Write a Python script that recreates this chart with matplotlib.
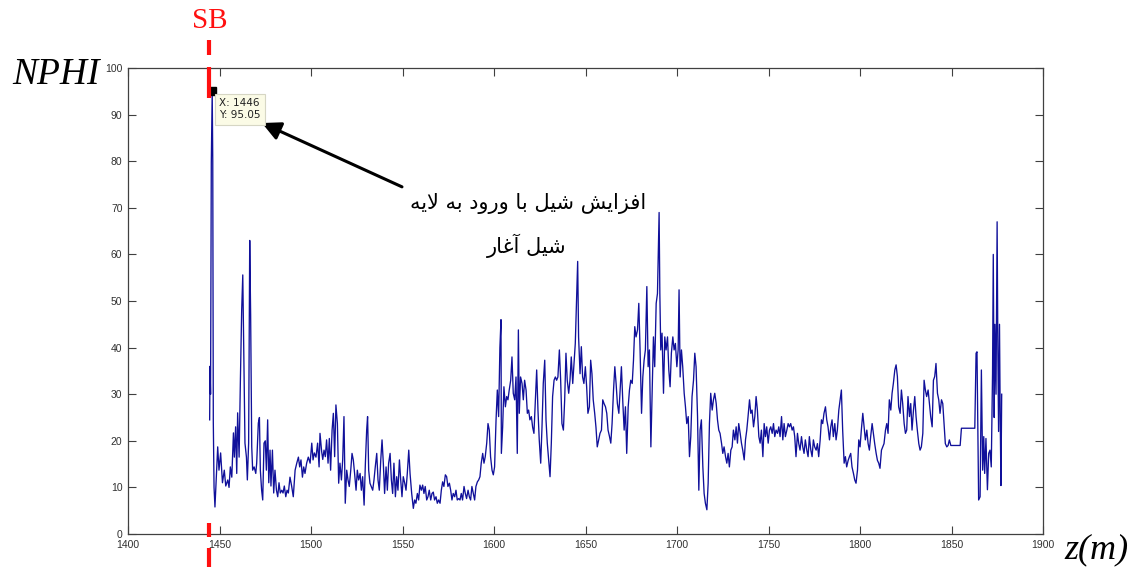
"""
NPHI log versus depth with the shale-boundary (SB) marker
"""
import matplotlib
matplotlib.use('Agg')
import matplotlib.pyplot as plt
import matplotlib.transforms as mtransforms

DEPTH = [
    1444.6, 1444.8, 1445.1, 1445.5, 1446.0, 1446.3, 1446.6, 1447.0, 1447.5, 1449.0,
    1449.7, 1450.6, 1451.6, 1452.6, 1453.4, 1454.5, 1455.2, 1455.9, 1456.7, 1457.6,
    1458.1, 1458.8, 1459.4, 1459.9, 1460.7, 1461.4, 1462.1, 1462.7, 1463.4, 1463.9,
    1464.7, 1465.2, 1465.9, 1466.5, 1467.0, 1467.6, 1468.1, 1468.9, 1469.8, 1470.3,
    1471.2, 1471.8, 1472.3, 1473.0, 1473.6, 1474.3, 1475.0, 1475.6, 1476.3, 1476.9,
    1477.6, 1478.1, 1478.9, 1479.6, 1480.3, 1481.1, 1481.8, 1482.5, 1483.2, 1484.0,
    1484.7, 1485.4, 1486.2, 1486.9, 1487.6, 1488.5, 1489.4, 1490.3, 1491.3, 1492.2,
    1493.1, 1493.8, 1494.5, 1495.3, 1496.0, 1496.7, 1497.6, 1498.5, 1499.5, 1500.4,
    1501.1, 1501.8, 1502.7, 1503.6, 1504.4,
    1504.9, 1505.8, 1506.4, 1507.1, 1507.8, 1508.5, 1509.3, 1510.0, 1510.7, 1511.5,
    1512.2, 1512.9, 1513.6, 1514.4, 1515.1, 1515.8, 1516.6, 1517.3, 1518.0, 1518.7,
    1519.5, 1520.2, 1520.9, 1521.7, 1522.4, 1523.1, 1523.8, 1524.6, 1525.3, 1526.0,
    1526.8, 1527.5, 1528.2, 1529.0, 1529.7, 1530.4, 1530.9, 1531.5, 1532.2, 1532.9,
    1533.7, 1534.4, 1535.1, 1535.9, 1536.6, 1537.3, 1538.1, 1538.8, 1539.5, 1540.2,
    1541.0, 1541.7, 1542.4, 1543.2, 1543.9, 1544.6, 1545.3, 1546.1, 1546.8, 1547.5,
    1548.3, 1549.0, 1549.7, 1550.4, 1551.2, 1551.9, 1552.6, 1553.4,
    1554.1, 1555.0, 1555.9, 1556.6, 1557.3, 1558.1, 1558.8, 1559.5, 1560.3, 1561.0,
    1561.7, 1562.4, 1563.2, 1563.9, 1564.6, 1565.4, 1566.1, 1566.8, 1567.5, 1568.3,
    1569.0, 1569.7, 1570.5, 1571.2, 1571.9, 1572.6, 1573.4, 1574.1, 1574.8, 1575.6,
    1576.3, 1577.0, 1577.7, 1578.5, 1579.2, 1579.9, 1580.7, 1581.4, 1582.1, 1582.8,
    1583.6, 1584.3, 1585.0, 1585.8, 1586.5, 1587.2, 1587.9, 1588.7, 1589.4, 1590.1,
    1590.9, 1591.6, 1592.3, 1593.0, 1593.8, 1594.5, 1595.2, 1596.0, 1596.7, 1597.4,
    1598.1, 1598.9, 1599.6, 1600.3, 1601.1, 1601.8, 1602.5, 1603.2, 1603.8, 1604.0,
    1604.7, 1605.4, 1606.2, 1606.9, 1607.6, 1608.3, 1609.1, 1609.8, 1610.5, 1611.3,
    1612.0, 1612.7, 1613.3, 1613.8, 1614.5, 1615.3, 1616.0, 1616.7, 1617.5, 1618.2,
    1618.9, 1619.6, 1620.4, 1621.1, 1621.8, 1622.6, 1623.3, 1624.0, 1624.7, 1625.5,
    1626.2, 1626.9, 1627.7, 1628.4, 1629.1, 1629.8, 1630.6, 1631.3, 1632.0, 1632.8,
    1633.5, 1634.2, 1634.9, 1635.7, 1636.4, 1637.1, 1637.9, 1638.6, 1639.3, 1640.0,
    1640.8, 1641.5, 1642.2, 1643.0, 1643.7, 1644.4, 1645.1, 1645.7, 1646.2, 1647.0,
    1647.7, 1648.4, 1649.1, 1649.9, 1650.6, 1651.3, 1652.1, 1652.8, 1653.5, 1654.2,
    1655.0, 1655.7, 1656.4, 1657.2, 1657.9,
    1658.7, 1659.4, 1660.1, 1660.9, 1661.6, 1662.3, 1663.1, 1663.8, 1664.5, 1665.3,
    1666.0, 1666.7, 1667.4, 1668.2, 1668.9, 1669.6, 1670.4, 1671.1, 1671.8, 1672.5,
    1673.3, 1674.0, 1674.7, 1675.5, 1676.2, 1676.9, 1677.6, 1678.4, 1679.1, 1679.8,
    1680.6, 1681.3, 1682.0, 1682.7, 1683.5, 1684.2, 1684.9, 1685.7, 1686.4, 1687.1,
    1687.8, 1688.6, 1689.3, 1690.2, 1690.6, 1691.1, 1691.8, 1692.6, 1693.3, 1694.0,
    1694.8, 1695.5, 1696.2, 1696.9, 1697.7, 1698.4, 1699.1, 1699.9, 1700.6, 1701.1,
    1701.7, 1702.4, 1703.1, 1703.9, 1704.6, 1705.3, 1706.1, 1706.8, 1707.5, 1708.2,
    1709.0, 1709.7, 1710.4, 1711.2, 1711.9, 1712.6, 1713.3, 1714.1, 1714.8, 1715.5,
    1716.3, 1717.0, 1717.7, 1718.4, 1719.2, 1719.9, 1720.6, 1721.4, 1722.1, 1722.8,
    1723.5, 1724.3, 1725.0, 1725.7, 1726.5, 1727.2, 1727.9, 1728.6, 1729.4, 1730.1,
    1730.8, 1731.6, 1732.3, 1733.0, 1733.7, 1734.5, 1735.2, 1735.9, 1736.7, 1737.4,
    1738.1, 1738.8, 1739.6, 1740.3, 1741.0, 1741.8, 1742.5, 1743.2, 1743.9, 1744.7,
    1745.4, 1746.1, 1746.9, 1747.6, 1748.3, 1749.0, 1749.8, 1750.5, 1751.2, 1752.0,
    1752.7, 1753.4, 1754.1, 1754.9, 1755.6, 1756.3, 1757.1, 1757.8, 1758.5, 1759.2,
    1760.0, 1760.7, 1761.4,
    1762.1, 1762.9, 1763.6, 1764.3, 1765.0, 1765.8, 1766.5, 1767.2, 1768.0, 1768.7,
    1769.4, 1770.1, 1770.9, 1771.6, 1772.3, 1773.1, 1773.8, 1774.5, 1775.2, 1776.0,
    1776.7, 1777.4, 1778.2, 1778.9, 1779.6, 1780.3, 1781.1, 1781.8, 1782.5, 1783.3,
    1784.0, 1784.7, 1785.4, 1786.2, 1786.9, 1787.6, 1788.4, 1789.1, 1789.8, 1790.5,
    1791.3, 1792.0, 1792.7, 1793.5, 1794.2, 1794.9, 1795.6, 1796.4, 1797.1, 1797.8,
    1798.6, 1799.3, 1800.0, 1800.7, 1801.5, 1802.2, 1802.9, 1803.7, 1804.4, 1805.1,
    1805.8, 1806.6, 1807.3, 1808.0, 1808.8, 1809.5, 1810.2, 1810.9, 1811.7, 1812.4,
    1813.1, 1813.9, 1814.6, 1815.3, 1816.0, 1816.8, 1817.5, 1818.2, 1819.0, 1819.7,
    1820.4, 1821.1, 1821.9, 1822.6, 1823.3, 1824.1, 1824.8, 1825.5, 1826.2, 1827.0,
    1827.7, 1828.4, 1829.2, 1829.9, 1830.6, 1831.3, 1832.1, 1832.8, 1833.5, 1834.3,
    1835.0, 1835.7, 1836.4, 1837.2, 1837.9, 1838.6, 1839.4, 1840.1, 1840.8, 1841.5,
    1842.3, 1843.0, 1843.7, 1844.5, 1845.2, 1845.9, 1846.6, 1847.4, 1848.1, 1848.8,
    1849.6, 1851.0, 1852.8, 1854.7, 1855.4, 1858.3, 1862.7, 1863.4,
    1863.9, 1864.8, 1865.6, 1866.3, 1867.0, 1867.6, 1868.1, 1868.8, 1869.6, 1870.3,
    1871.0, 1871.7, 1872.4, 1872.8, 1873.3, 1873.7, 1874.3, 1874.9, 1875.3, 1875.7,
    1876.2, 1876.6, 1877.0, 1877.4,
]

NPHI = [
    24.5, 36.0, 30.0, 79.6, 95.05, 80.0, 24.0, 10.0, 5.8, 18.7,
    13.7, 17.4, 11.0, 13.7, 10.3, 11.6, 10.0, 14.4, 12.2, 21.7,
    16.5, 23.0, 13.0, 26.0, 16.5, 33.0, 48.0, 55.6, 33.7, 19.5,
    16.5, 11.6, 19.5, 63.0, 47.0, 18.7, 13.7, 14.4, 13.0, 15.2,
    23.8, 25.0, 13.7, 9.4, 7.3, 19.5, 20.0, 13.7, 24.5, 11.0,
    18.0, 10.3, 18.0, 8.8, 13.7, 9.4, 8.0, 11.0, 8.8, 9.4,
    8.8, 10.3, 8.0, 9.4, 8.8, 12.2, 10.3, 8.0, 13.7, 15.2,
    16.5, 14.4, 15.9, 12.2, 14.4, 13.0, 15.2, 16.5, 15.2, 19.5,
    15.9, 17.4, 16.5, 19.5, 14.4,
    21.6, 17.7, 16.0, 18.0, 16.6, 20.2, 15.2, 20.5, 13.7, 22.3,
    25.9, 16.6, 27.7, 23.7, 10.9, 15.2, 11.6, 15.9, 25.2, 6.6,
    13.7, 11.6, 10.2, 13.7, 17.3, 15.9, 13.0, 9.4, 13.7, 11.6,
    13.0, 9.4, 12.3, 6.2, 15.2, 22.3, 25.2, 13.7, 10.9, 10.2,
    9.4, 11.6, 14.4, 17.3, 11.6, 9.4, 15.9, 20.2, 15.2, 8.7,
    14.4, 9.4, 15.2, 17.3, 11.6, 8.7, 15.2, 8.0, 12.3, 9.4,
    15.9, 11.6, 8.0, 12.3, 10.9, 9.4, 13.0, 18.0,
    13.0, 8.7, 5.5, 7.3, 6.6, 8.7, 7.3, 10.5, 9.4, 10.5,
    8.7, 10.2, 7.3, 8.0, 9.4, 7.3, 8.7, 9.0, 7.3, 8.0,
    6.6, 7.3, 6.6, 9.4, 11.2, 10.2, 12.7, 12.3, 10.2, 10.9,
    9.4, 7.3, 8.7, 8.0, 9.4, 7.3, 7.6, 7.3, 8.7, 7.3,
    10.2, 8.7, 7.6, 9.4, 8.0, 7.3, 10.2, 8.7, 7.3, 10.2,
    11.2, 11.6, 12.3, 15.2, 17.3, 15.2, 16.6, 19.5, 23.7, 22.3,
    16.6, 13.7, 12.7, 14.4, 24.5, 30.9, 25.2, 40.0, 46.0, 17.3,
    22.9, 31.6, 27.3, 29.5, 28.8, 30.9, 33.0, 38.0, 30.2, 28.8,
    33.7, 17.3, 43.8, 25.9, 33.7, 32.3, 28.8, 33.0, 30.9, 25.9,
    26.6, 24.5, 25.2, 22.9, 21.6, 28.8, 35.2, 26.6, 20.2, 15.2,
    22.9, 32.3, 37.3, 24.5, 19.5, 16.0, 12.3, 19.5, 29.5, 33.0,
    33.7, 33.0, 33.7, 39.5, 33.0, 23.7, 22.3, 28.8, 38.8, 33.0,
    30.2, 33.0, 38.0, 32.3, 36.6, 40.9, 50.2, 58.5, 42.3, 34.4,
    40.2, 33.7, 32.3, 35.9, 31.6, 25.9, 27.3, 37.3, 34.4, 28.8,
    25.9, 22.9, 18.7, 20.2, 21.6,
    22.3, 28.8, 28.0, 27.3, 25.9, 22.3, 20.9, 19.5, 23.7, 30.9,
    35.9, 32.3, 28.0, 25.9, 30.9, 35.9, 28.0, 22.3, 27.3, 17.3,
    27.3, 30.9, 33.0, 32.3, 37.3, 44.5, 42.3, 43.8, 49.5, 39.5,
    25.9, 33.7, 37.3, 39.5, 53.1, 35.9, 39.5, 18.7, 30.9, 42.3,
    35.9, 49.5, 51.6, 69.0, 51.6, 39.5, 43.1, 30.2, 42.3, 39.5,
    42.3, 35.2, 31.6, 38.8, 42.3, 39.5, 40.9, 35.9, 39.5, 52.4,
    33.7, 39.5, 35.9, 30.2, 27.3, 23.7, 25.2, 16.6, 20.9, 29.5,
    33.0, 38.8, 35.9, 25.2, 9.4, 22.3, 24.5, 14.4, 8.7, 6.6,
    5.2, 10.9, 23.7, 30.2, 26.6, 28.8, 30.2, 28.0, 24.5, 22.3,
    21.6, 19.5, 17.3, 18.7, 16.6, 15.2, 17.3, 14.4, 18.0, 18.7,
    22.3, 20.2, 23.0, 19.5, 23.7, 21.6, 19.5, 18.0, 15.9, 20.2,
    22.3, 25.2, 28.8, 25.9, 26.6, 23.0, 25.2, 29.5, 26.6, 20.9,
    19.5, 22.3, 16.6, 23.7, 20.9, 23.0, 19.5, 22.3, 23.0, 21.6,
    23.7, 20.9, 22.3, 21.6, 23.0, 20.9, 25.2, 20.2, 23.7, 20.9,
    22.3, 23.7, 23.0,
    23.7, 22.3, 23.0, 20.9, 16.6, 21.6, 19.4, 18.0, 20.9, 18.7,
    17.3, 20.2, 18.0, 16.6, 20.9, 18.0, 16.6, 20.2, 18.7, 18.0,
    19.4, 16.6, 20.2, 24.5, 23.7, 25.9, 27.3, 24.5, 23.0, 20.2,
    23.0, 24.5, 20.9, 23.7, 20.2, 22.3, 26.6, 28.8, 30.9, 22.3,
    15.2, 16.6, 14.4, 15.8, 16.6, 17.3, 14.4, 13.0, 11.6, 10.9,
    13.7, 20.2, 18.7, 22.3, 25.9, 23.0, 20.2, 22.3, 19.4, 18.0,
    20.9, 23.7, 21.6, 19.4, 17.3, 15.8, 15.2, 14.1, 18.0, 18.7,
    19.4, 22.3, 23.7, 21.6, 28.8, 26.6, 30.2, 32.3, 35.2, 36.3,
    33.8, 27.3, 25.9, 30.9, 28.0, 23.7, 21.6, 22.3, 29.5, 25.2,
    28.0, 22.3, 26.6, 29.5, 25.2, 22.3, 19.4, 18.0, 18.7, 21.6,
    33.0, 30.9, 29.5, 30.9, 28.0, 25.2, 23.0, 33.0, 33.8, 36.6,
    30.2, 28.8, 25.9, 28.8, 28.0, 23.7, 19.4, 18.7, 19.0, 20.2,
    19.0, 19.0, 19.0, 19.0, 22.7, 22.7, 22.7, 38.8,
    39.1, 7.3, 8.0, 35.2, 13.7, 20.9, 13.0, 20.5, 9.5, 17.3,
    18.0, 14.4, 34.5, 60.0, 25.0, 45.0, 30.0, 67.0, 40.0, 22.0,
    45.0, 24.5, 10.4, 30.0,
]

# data cursor shown on the plot
TIP_X, TIP_Y = 1446, 95.05
# depth of the SB marker
SB_DEPTH = 1444.5

X_TICKS = list(range(1400, 1901, 50))
Y_TICKS = list(range(0, 101, 10))

NOTE_LINE1 = 'افزایش شیل با ورود به لایه'
NOTE_LINE2 = 'شیل آغار'

# ── Minimal Persian shaping (matplotlib does not join Arabic letters) ─────────
# isolated, final, initial, medial
FORMS = {
    'ا': ('\uFE8D', '\uFE8E', None, None),
    'آ': ('\uFE81', '\uFE82', None, None),
    'ب': ('\uFE8F', '\uFE90', '\uFE91', '\uFE92'),
    'د': ('\uFEA9', '\uFEAA', None, None),
    'ر': ('\uFEAD', '\uFEAE', None, None),
    'ز': ('\uFEAF', '\uFEB0', None, None),
    'و': ('\uFEED', '\uFEEE', None, None),
    'ش': ('\uFEB5', '\uFEB6', '\uFEB7', '\uFEB8'),
    'ف': ('\uFED1', '\uFED2', '\uFED3', '\uFED4'),
    'غ': ('\uFECD', '\uFECE', '\uFECF', '\uFED0'),
    'ل': ('\uFEDD', '\uFEDE', '\uFEDF', '\uFEE0'),
    'ه': ('\uFEE9', '\uFEEA', '\uFEEB', '\uFEEC'),
    'ی': ('\uFEEF', '\uFEF0', '\uFEF3', '\uFEF4'),
    'لا': ('\uFEFB', '\uFEFC', None, None),
}


def shape(text):
    tokens, i = [], 0
    while i < len(text):
        if text[i] == 'ل' and i + 1 < len(text) and text[i + 1] == 'ا':
            tokens.append('لا')
            i += 2
        else:
            tokens.append(text[i])
            i += 1
    out = []
    for k, t in enumerate(tokens):
        if t not in FORMS:
            out.append(t)
            continue
        prev = tokens[k - 1] if k > 0 else None
        nxt = tokens[k + 1] if k + 1 < len(tokens) else None
        jp = prev in FORMS and FORMS[prev][2] is not None
        jn = nxt in FORMS and FORMS[t][2] is not None
        iso, fin, ini, med = FORMS[t]
        out.append(med if (jp and jn) else fin if jp else ini if jn else iso)
    return ''.join(reversed(out))


# ── Figure ────────────────────────────────────────────────────────────────────
fig = plt.figure(figsize=(11.34, 5.76), dpi=100)
ax = fig.add_axes([0.1129, 0.0729, 0.8069, 0.809])

ax.plot(DEPTH, NPHI, color='#10109a', lw=0.95)

ax.set_xlim(1400, 1900)
ax.set_ylim(0, 100)
ax.set_xticks(X_TICKS)
ax.set_yticks(Y_TICKS)
ax.tick_params(direction='in', top=True, right=True, length=6, width=0.8,
               color='#404040', labelsize=7.5, labelcolor='#303030', pad=4)
for lab in ax.get_xticklabels() + ax.get_yticklabels():
    lab.set_family('Liberation Sans')
for sp in ax.spines.values():
    sp.set_color('#404040')
    sp.set_linewidth(0.9)

# data cursor
ax.plot([TIP_X], [TIP_Y], marker='s', color='black', ms=6, zorder=5)
ax.annotate(f'X: {TIP_X}\nY: {TIP_Y}', xy=(TIP_X, TIP_Y), xytext=(5, -5),
            textcoords='offset points', ha='left', va='top', fontsize=7.5,
            family='DejaVu Sans', linespacing=1.3, color='#202020',
            bbox=dict(boxstyle='square,pad=0.4', fc='#fbfbe6', ec='#d6d6c4', lw=0.8),
            zorder=6)

# SB marker (dashed red line, only visible near the axis edges)
trans = mtransforms.blended_transform_factory(ax.transData, ax.transAxes)
for y0, y1 in [(1.060, 1.028), (1.002, 0.936), (0.0236, -0.0064), (-0.030, -0.0708)]:
    ax.plot([SB_DEPTH, SB_DEPTH], [y0, y1], transform=trans, color='#ff1010',
            lw=3, solid_capstyle='butt', clip_on=False, zorder=7)
ax.text(SB_DEPTH, 1.100, 'SB', transform=trans, ha='center', va='center',
        color='#ff1010', fontsize=21, family='Liberation Serif')

# arrow and Persian note
ax.annotate('', xy=(1473.2, 88.2), xytext=(1549.7, 74.5),
            arrowprops=dict(arrowstyle='-|>', color='black', lw=2.2,
                            mutation_scale=28, shrinkA=0, shrinkB=0))
ax.text(1618.6, 71.0, shape(NOTE_LINE1), ha='center', va='center',
        fontsize=15, family='DejaVu Sans')
ax.text(1618.0, 61.8, shape(NOTE_LINE2), ha='center', va='center',
        fontsize=15, family='DejaVu Sans')

# axis names
fig.text(0.049, 0.870, 'NPHI', ha='center', va='center', fontsize=27,
         family='Liberation Serif', style='italic')
fig.text(0.967, 0.045, 'z(m)', ha='center', va='center', fontsize=26,
         family='Liberation Serif', style='italic')

fig.savefig('out.png', dpi=100, facecolor='white')
